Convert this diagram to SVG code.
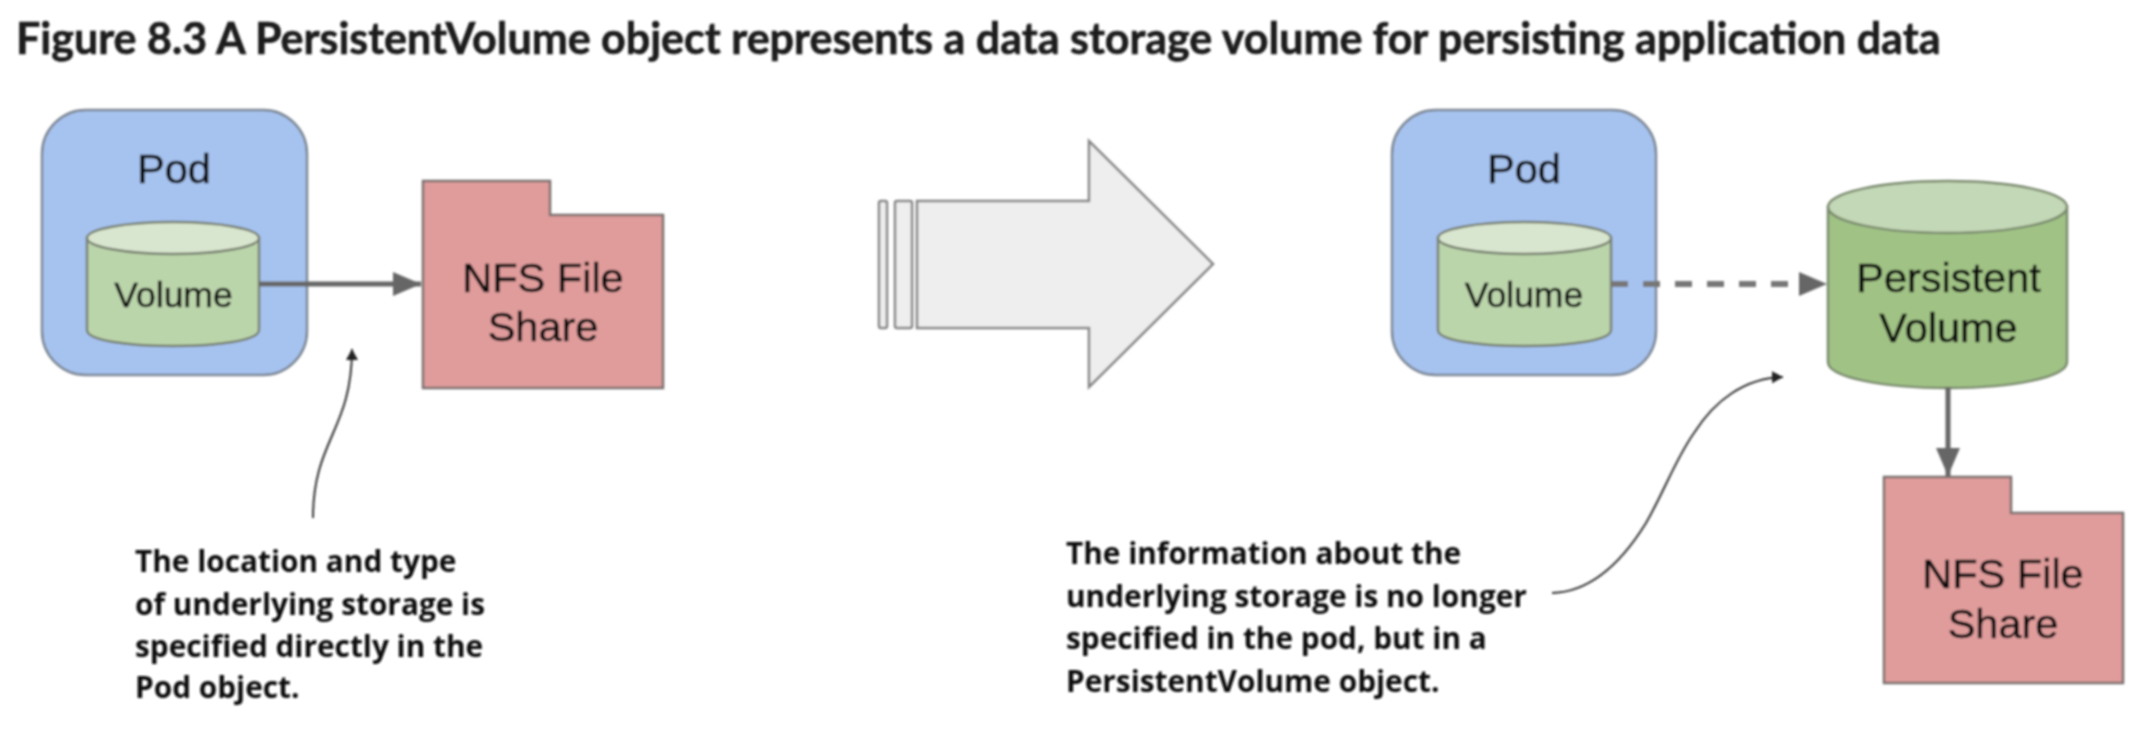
<svg xmlns="http://www.w3.org/2000/svg" width="2148" height="752" viewBox="0 0 2148 752">
<style>
.pod{fill:#a6c2ef;stroke:#7d8794;stroke-width:2.5}
.cyl{fill:#bbd5ab;stroke:#77806f;stroke-width:2.5}
.cyltop{fill:#d9e6cf;stroke:#77806f;stroke-width:2.5}
.pv{fill:#a0c385;stroke:#7a8a6e;stroke-width:2.5}
.pvtop{fill:#c3d8b6;stroke:#7a8a6e;stroke-width:2.5}
.folder{fill:#e09c9b;stroke:#7a7070;stroke-width:2.5}
.big{fill:#eeeeee;stroke:#858585;stroke-width:2.5}
.lbl{font-family:"Liberation Sans",Arial,sans-serif;fill:#0c0c0c;stroke:#0c0c0c;stroke-width:0.5;text-anchor:middle}
.note{font-family:"Open Sans","Liberation Sans",sans-serif;font-weight:700;font-size:29.800px;fill:#111111}
.conn{stroke:#666666;stroke-width:5;fill:none}
.curve{stroke:#333333;stroke-width:2;fill:none}
</style>
<defs>
<marker id="tri" markerUnits="userSpaceOnUse" markerWidth="30" markerHeight="28" refX="28" refY="12" orient="auto"><path d="M0 0L28 12L0 24Z" fill="#666666"/></marker>
<marker id="small" markerUnits="userSpaceOnUse" markerWidth="14" markerHeight="12" refX="11" refY="6" orient="auto"><path d="M0 0L11 6L0 12Z" fill="#222222"/></marker>
<filter id="soft" x="-2%" y="-2%" width="104%" height="104%"><feGaussianBlur stdDeviation="0.8"/></filter>
</defs>
<g filter="url(#soft)">
<text id="title" x="16" y="54" font-family="Lato,'Liberation Sans',sans-serif" font-weight="700" font-size="43" fill="#1c1c1c" stroke="#1c1c1c" stroke-width="0.6">Figure 8.3 A PersistentVolume object represents a data storage volume for persisting application data</text>
<g id="pod-left"><rect class="pod" x="42" y="110" width="265" height="265" rx="44"/><text class="lbl" x="174" y="183" font-size="41.500">Pod</text></g>
<g id="volume-left"><path class="cyl" d="M87 238V330C87 340 125 346 173 346S259 340 259 330V238Z"/><ellipse class="cyltop" cx="173" cy="238" rx="86" ry="16"/><text class="lbl" x="173.500" y="307" font-size="35.500">Volume</text></g>
<g id="nfs-left"><path class="folder" d="M423 181H550V215H663V388H423Z"/><text class="lbl" x="543" y="292" font-size="41.500">NFS File</text><text class="lbl" x="543" y="341" font-size="41.500">Share</text></g>
<g id="transition-arrow"><rect class="big" x="879" y="201" width="8" height="127" rx="2"/><rect class="big" x="895" y="201" width="17" height="127" rx="2"/><path class="big" d="M917 201H1089V141L1213 264L1089 387V328H917Z"/></g>
<g id="pod-right"><rect class="pod" x="1392" y="110" width="264" height="265" rx="44"/><text class="lbl" x="1524" y="183" font-size="41.500">Pod</text></g>
<g id="volume-right"><path class="cyl" d="M1438 238V330C1438 340 1476 346 1524 346S1611 340 1611 330V238Z"/><ellipse class="cyltop" cx="1524.500" cy="238" rx="86.500" ry="16"/><text class="lbl" x="1524" y="307" font-size="35.500">Volume</text></g>
<g id="persistent-volume"><path class="pv" d="M1828 207V362C1828 377 1882 388 1948 388S2067 377 2067 362V207Z"/><ellipse class="pvtop" cx="1947.500" cy="207" rx="119.500" ry="26"/><text class="lbl" x="1948.500" y="292" font-size="41.500">Persistent</text><text class="lbl" x="1948.500" y="342" font-size="41.500">Volume</text></g>
<g id="nfs-right"><path class="folder" d="M1884 477H2011V513H2123V683H1884Z"/><text class="lbl" x="2003" y="588" font-size="41.500">NFS File</text><text class="lbl" x="2003" y="638" font-size="41.500">Share</text></g>
<g id="notes">
<text class="note"><tspan x="135" y="572">The location and type</tspan><tspan x="135" y="615">of underlying storage is</tspan><tspan x="135" y="657">specified directly in the</tspan><tspan x="135" y="698">Pod object.</tspan></text>
<text class="note"><tspan x="1066" y="564">The information about the</tspan><tspan x="1066" y="607">underlying storage is no longer</tspan><tspan x="1066" y="649">specified in the pod, but in a</tspan><tspan x="1066" y="692">PersistentVolume object.</tspan></text>
</g>
<g id="connectors">
<path class="conn" d="M259 284H421" marker-end="url(#tri)"/>
<path class="conn" d="M1611 284H1827" stroke-dasharray="17 15" style="stroke:#777777;stroke-width:6" marker-end="url(#tri)"/>
<path class="conn" d="M1948 387V476" marker-end="url(#tri)"/>
<path class="curve" d="M313 518C313 440 352 430 352 349" marker-end="url(#small)"/>
<path class="curve" d="M1552 593C1590 592 1620 565 1646 523C1665 490 1675 460 1694 433C1715 400 1745 378 1783 377" marker-end="url(#small)"/>
</g>
</g>
</svg>
